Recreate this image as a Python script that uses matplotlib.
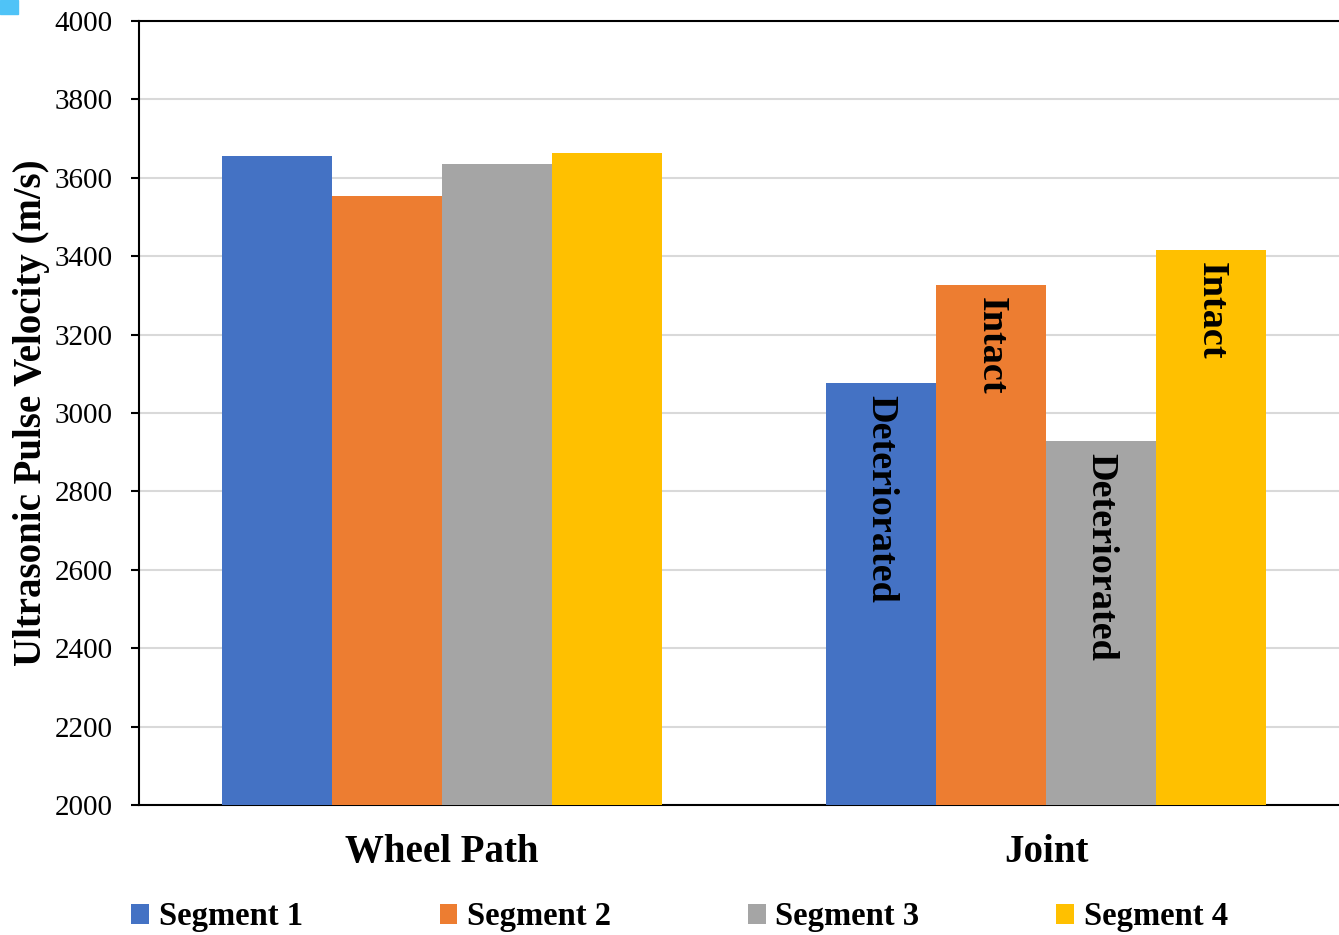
import matplotlib
matplotlib.use("Agg")
import matplotlib.pyplot as plt
import numpy as np
from matplotlib.patches import Rectangle

categories = ["Wheel Path", "Joint"]
series_names = ["Segment 1", "Segment 2", "Segment 3", "Segment 4"]
segment1 = [3656, 3077]
segment2 = [3554, 3327]
segment3 = [3635, 2929]
segment4 = [3663, 3416]
joint_labels = ["Deteriorated", "Intact", "Deteriorated", "Intact"]
yticks = [2000, 2200, 2400, 2600, 2800, 3000, 3200, 3400, 3600, 3800, 4000]

colors = ["#4472C4", "#ED7D31", "#A5A5A5", "#FFC000"]
series = [segment1, segment2, segment3, segment4]

plt.rcParams["font.family"] = ["Liberation Serif", "DejaVu Serif"]

fig = plt.figure(figsize=(13.39, 9.35), dpi=100)
ax = fig.add_axes([139 / 1339, 1 - 805 / 935, 1200 / 1339, (805 - 21) / 935])

x = np.arange(len(categories))
width = 0.182
offsets = (np.arange(4) - 1.5) * width
for vals, off, col, name in zip(series, offsets, colors, series_names):
    ax.bar(x + off, vals, width=width, bottom=0, color=col, label=name, zorder=3)

# condition annotations inside the Joint bars
for vals, off, txt in zip(series, offsets, joint_labels):
    ax.annotate(txt, xy=(x[1] + off, vals[1]), xytext=(0, -9),
                textcoords="offset points", rotation=270,
                ha="center", va="top", fontsize=27.5, fontweight="bold",
                color="black", zorder=4)

ax.set_ylim(2000, 4000)
ax.set_xlim(-0.5017, 1.485)
ax.set_yticks(yticks)
ax.set_yticklabels([str(t) for t in yticks], fontsize=21)
ax.set_xticks(x)
ax.set_xticklabels(categories, fontsize=28, fontweight="bold")
ax.tick_params(axis="x", length=0, pad=21)
ax.tick_params(axis="y", length=6, width=1.5, direction="out", pad=13)

ax.yaxis.grid(True, color="#D9D9D9", linewidth=1.5, zorder=0)
ax.set_axisbelow(True)
for side in ["left", "bottom", "top"]:
    ax.spines[side].set_linewidth(1.5)
    ax.spines[side].set_color("black")
ax.spines["right"].set_visible(False)

ax.set_ylabel("Ultrasonic Pulse Velocity (m/s)", fontsize=28, fontweight="bold", labelpad=3)

leg = fig.legend(loc="center", bbox_to_anchor=(0.5075, 1 - 917 / 935), ncol=4,
                 frameon=False, prop={"size": 23.5, "weight": "bold"},
                 handlelength=0.55, handleheight=0.55, handletextpad=0.3,
                 columnspacing=4.18)

fig.patches.append(Rectangle((0, 1 - 14 / 935), 18 / 1339, 14 / 935,
                             transform=fig.transFigure, color="#4FC3F7", zorder=10))

fig.savefig("out.png", dpi=100)
